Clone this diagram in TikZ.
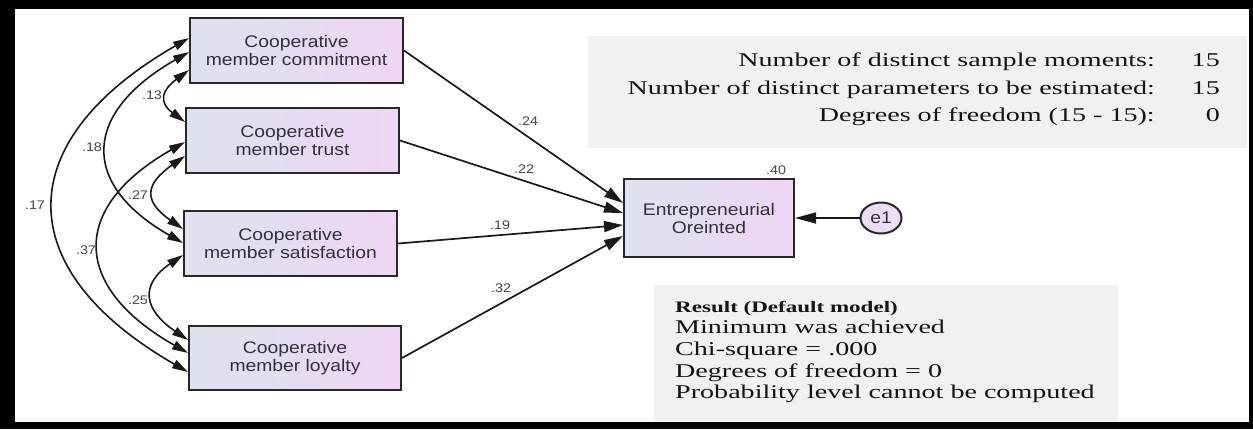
\documentclass[tikz,border=0pt]{standalone}
\usepackage{fontspec}
\usetikzlibrary{arrows.meta,calc,shapes.geometric}
\newfontfamily\amos[FakeStretch=1.15]{Liberation Sans}
\newfontfamily\tnr[FakeStretch=1.44]{Liberation Serif}
\definecolor{boxL}{RGB}{222,226,238}
\definecolor{boxR}{RGB}{238,214,244}
\definecolor{edge}{RGB}{40,40,40}
\definecolor{txt}{RGB}{50,50,58}
\definecolor{lab}{RGB}{70,70,70}
\definecolor{panel}{RGB}{241,241,241}
\tikzset{
  var/.style={draw=edge, line width=2pt, left color=boxL, right color=boxR,
    minimum width=213pt, minimum height=65pt, inner sep=0pt,
    font=\amos\fontsize{16.8}{18}\selectfont, text=txt, align=center},
  coef/.style={font=\amos\fontsize{12.5}{12.5}\selectfont, text=lab, inner sep=0pt},
  reg/.style={line width=1.7pt, draw=black!90, -{Triangle[length=19pt,width=11pt]}},
  cov/.style={line width=1.6pt, draw=black!90,
    {Triangle[length=16pt,width=9pt]}-{Triangle[length=16pt,width=9pt]}},
  panelbox/.style={fill=panel, draw=none, inner sep=0pt},
  stat/.style={font=\tnr\fontsize{19.5}{19.5}\selectfont, text=black!92, inner sep=0pt},
}
\begin{document}
\begin{tikzpicture}[x=1pt,y=-1pt]
\useasboundingbox (0,0) rectangle (1253,429);
% frame
\fill[black] (0,0) rectangle (1253,429);
\fill[white] (15,9) rectangle (1249,422);

% panels
\node[panelbox, minimum width=659pt, minimum height=112pt] (pan1) at (917.5,92) {};
\node[panelbox, minimum width=464pt, minimum height=137pt] (pan2) at (886,353.5) {};

% observed variables
\node[var] (com) at (296.5,50.5) {Cooperative\\member commitment};
\node[var] (tru) at (292.5,140.5) {Cooperative\\member trust};
\node[var] (sat) at (290.5,243.5) {Cooperative\\member satisfaction};
\node[var, minimum width=212pt, minimum height=64pt] (loy) at (295,358) {Cooperative\\member loyalty};
\node[var, minimum width=170pt, minimum height=78pt] (ent) at (709,218) {Entrepreneurial\\Oreinted};
\node[ellipse, draw=edge, line width=2pt, left color=boxL!40!boxR, right color=boxR!85!white,
  minimum width=41pt, minimum height=31pt, inner sep=0pt,
  font=\amos\fontsize{16.8}{16.8}\selectfont, text=txt] (e1) at (881,218) {e1};

% arrow end points on the target box
\coordinate (t1) at (ent.west |- 0,203);
\coordinate (t2) at (ent.west |- 0,213);
\coordinate (t3) at (ent.west |- 0,225);
\coordinate (t4) at (ent.west |- 0,236);

% regressions
\draw[reg] (com.east) -- (t1);
\draw[reg] (tru.east) -- (t2);
\draw[reg] (sat.east) -- (t3);
\draw[reg] (loy.east) -- (t4);
\draw[line width=1.7pt, draw=black!90, -{Triangle[length=21pt,width=11pt]}] (e1.west) -- (ent.east);

\node[coef] (l24) at (528,121) {.24};
\node[coef] (l22) at (524,169) {.22};
\node[coef] (l19) at (500,225) {.19};
\node[coef] (l32) at (501,288) {.32};
\node[coef] (l40) at (776,170) {.40};

% covariance end points
\coordinate (c17) at (com.west |- 0,38);
\coordinate (c18) at (com.west |- 0,52);
\coordinate (c13) at (com.west |- 0,70);
\coordinate (r13) at (tru.west |- 0,122);
\coordinate (r37) at (tru.west |- 0,142);
\coordinate (r27) at (tru.west |- 0,156);
\coordinate (s27) at (sat.west |- 0,229);
\coordinate (s18) at (sat.west |- 0,243);
\coordinate (s25) at (sat.west |- 0,255);
\coordinate (y25) at (loy.west |- 0,340);
\coordinate (y37) at (loy.west |- 0,353);
\coordinate (y17) at (loy.west |- 0,372);

% covariances
\draw[cov] (c13) .. controls +(-27,20) and +(-27,-20) .. (r13);
\draw[cov] (r27) .. controls +(-40,28) and +(-40,-28) .. (s27);
\draw[cov] (s25) .. controls +(-44,30) and +(-44,-30) .. (y25);
\draw[cov] (c18) .. controls +(-105,60) and +(-105,-60) .. (s18);
\draw[cov] (r37) .. controls +(-116,66) and +(-116,-66) .. (y37);
\draw[cov] (c17) .. controls +(-179,103) and +(-179,-103) .. (y17);

\node[coef] (k13) at (152,95) {.13};
\node[coef] (k18) at (92,147) {.18};
\node[coef] (k17) at (35,205) {.17};
\node[coef] (k27) at (138,195) {.27};
\node[coef] (k37) at (86,250) {.37};
\node[coef] (k25) at (138,300) {.25};

% model statistics
\node[stat, anchor=base east] (m1) at (1155,66) {Number of distinct sample moments:};
\node[stat, anchor=base east] (v1) at (1220,66) {15};
\node[stat, anchor=base east] (m2) at (1155,94) {Number of distinct parameters to be estimated:};
\node[stat, anchor=base east] (v2) at (1220,94) {15};
\node[stat, anchor=base east] (m3) at (1155,121) {Degrees of freedom (15 - 15):};
\node[stat, anchor=base east] (v3) at (1220,121) {0};

\node[stat, anchor=base west, font=\tnr\bfseries\fontsize{16}{16}\selectfont] (r0) at (675,312) {Result (Default model)};
\node[stat, anchor=base west] (r1) at (675,333) {Minimum was achieved};
\node[stat, anchor=base west] (r2) at (675,355) {Chi-square = .000};
\node[stat, anchor=base west] (r3) at (675,377) {Degrees of freedom = 0};
\node[stat, anchor=base west] (r4) at (675,398) {Probability level cannot be computed};
\end{tikzpicture}
\end{document}
